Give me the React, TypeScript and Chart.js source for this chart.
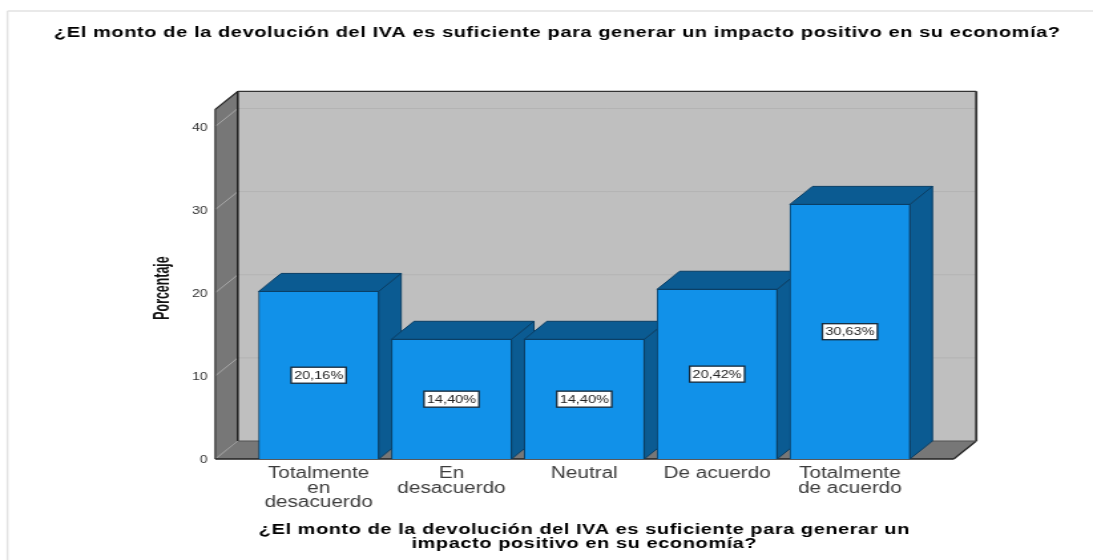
import React, { useEffect, useRef } from "react";
import { Chart, registerables } from "chart.js";

Chart.register(...registerables);

const categories = [
  ["Totalmente", "en", "desacuerdo"],
  ["En", "desacuerdo"],
  ["Neutral"],
  ["De acuerdo"],
  ["Totalmente", "de acuerdo"],
];
const percentages = [20.16, 14.4, 14.4, 20.42, 30.63];
const yTicks = [0, 10, 20, 30, 40];
const yMax = 42.07;
const chartTitle = "¿El monto de la devolución del IVA es suficiente para generar un impacto positivo en su economía?";
const xTitle = ["¿El monto de la devolución del IVA es suficiente para generar un", "impacto positivo en su economía?"];
const yTitle = "Porcentaje";

const S = 1.33; // the reference is stretched horizontally
const W = 1093 / S;
const H = 560;
const X = (v: number) => v / S;
const DX = X(22.5);
const DY = -18;
const FONT = '"Liberation Sans", Arial, sans-serif';

const poly = (ctx: CanvasRenderingContext2D, pts: number[][], fill: string | null, stroke: string | null, lw = 1) => {
  ctx.beginPath();
  pts.forEach((p, i) => (i ? ctx.lineTo(p[0], p[1]) : ctx.moveTo(p[0], p[1])));
  ctx.closePath();
  if (fill) { ctx.fillStyle = fill; ctx.fill(); }
  if (stroke) { ctx.strokeStyle = stroke; ctx.lineWidth = lw; ctx.stroke(); }
};
const line = (ctx: CanvasRenderingContext2D, x1: number, y1: number, x2: number, y2: number, c: string, lw = 1) => {
  ctx.beginPath(); ctx.moveTo(x1, y1); ctx.lineTo(x2, y2); ctx.strokeStyle = c; ctx.lineWidth = lw; ctx.stroke();
};
const spaced = (ctx: any, spacing: string, draw: () => void) => {
  ctx.letterSpacing = spacing;
  draw();
  ctx.letterSpacing = "0px";
};

const box3d = {
  id: "box3d",
  afterLayout(chart: any) {
    const block = chart.titleBlock;
    block.left = X(20);
    block.right = X(1095);
    const drawBlock = block.draw;
    block.draw = function () { spaced(chart.ctx, "0.47px", () => drawBlock.call(block)); };
    const sx = chart.scales.x;
    const drawTitle = sx.drawTitle;
    sx.drawTitle = function () { spaced(chart.ctx, "0.44px", () => drawTitle.call(sx)); };
  },
  beforeDatasetsDraw(chart: any) {
    const ctx = chart.ctx as CanvasRenderingContext2D;
    const { top, bottom } = chart.chartArea;
    const fl = X(215.3), fr = X(954);
    const y = chart.scales.y;
    ctx.save();
    // page frame
    line(ctx, X(7.5), 11, X(7.5), H, "#e2e2e2", 1.5);
    line(ctx, X(7.5), 11, W + 2, 11, "#e2e2e2", 1.5);
    // walls and floor
    poly(ctx, [[fl + DX, top + DY], [fr + DX, top + DY], [fr + DX, bottom + DY], [fl + DX, bottom + DY]], "#bfbfbf", null);
    poly(ctx, [[fl, top], [fl + DX, top + DY], [fl + DX, bottom + DY], [fl, bottom]], "#777777", null);
    poly(ctx, [[fl, bottom], [fl + DX, bottom + DY], [fr + DX, bottom + DY], [fr, bottom]], "#777777", null);
    // grid lines
    yTicks.forEach((t) => {
      if (!t) return;
      const p = y.getPixelForValue(t);
      line(ctx, fl + DX, p + DY, fr + DX, p + DY, "#b3b3b3", 1);
      line(ctx, fl, p, fl + DX, p + DY, "#a8a8a8", 1);
    });
    line(ctx, fl, bottom, fl + DX, bottom + DY, "#9a9a9a", 1);
    // edges
    ctx.lineJoin = "round";
    line(ctx, fl + DX, top + DY, fl + DX, bottom + DY, "#222", 1.6);
    line(ctx, fl + DX, top + DY, fr + DX, top + DY, "#333", 1.2);
    line(ctx, fr + DX, top + DY, fr + DX, bottom + DY, "#333", 1.8);
    line(ctx, fl, top, fl + DX, top + DY, "#222", 1.2);
    line(ctx, fl, top, fl, bottom, "#333", 1.2);
    line(ctx, fl, bottom, fr, bottom, "#222", 1.4);
    line(ctx, fr, bottom, fr + DX, bottom + DY, "#222", 1.2);
    line(ctx, fl + DX, bottom + DY, fr + DX, bottom + DY, "#555", 1);
    // bar sides and tops
    chart.getDatasetMeta(0).data.forEach((b: any) => {
      const l = b.x - b.width / 2, r = b.x + b.width / 2;
      poly(ctx, [[r, b.y], [r + DX, b.y + DY], [r + DX, b.base + DY], [r, b.base]], "#0b5b92", "#0a3f66", 1);
      poly(ctx, [[l, b.y], [l + DX, b.y + DY], [r + DX, b.y + DY], [r, b.y]], "#0b5b92", "#0a3f66", 1);
    });
    ctx.restore();
  },
  afterDatasetsDraw(chart: any) {
    const ctx = chart.ctx as CanvasRenderingContext2D;
    ctx.save();
    ctx.font = `10.9px ${FONT}`;
    ctx.textAlign = "center";
    ctx.textBaseline = "middle";
    chart.getDatasetMeta(0).data.forEach((b: any, i: number) => {
      const cy = (b.y + b.base) / 2;
      const w = X(55), h = 16;
      ctx.fillStyle = "#fff";
      ctx.strokeStyle = "#15293a";
      ctx.lineWidth = 1.3;
      ctx.fillRect(b.x - w / 2, cy - h / 2, w, h);
      ctx.strokeRect(b.x - w / 2, cy - h / 2, w, h);
      ctx.fillStyle = "#222";
      ctx.fillText(percentages[i].toFixed(2).replace(".", ",") + "%", b.x, cy + 0.5);
    });
    ctx.translate(X(163), 288);
    ctx.rotate(-Math.PI / 2);
    ctx.scale(1, 1.37);
    ctx.font = `bold 12.4px ${FONT}`;
    ctx.fillStyle = "#111";
    ctx.fillText(yTitle, 0, 0);
    ctx.restore();
  },
};

export default function App() {
  const ref = useRef<HTMLCanvasElement>(null);
  useEffect(() => {
    document.body.style.margin = "0";
    document.body.style.overflow = "hidden";
    const chart = new Chart(ref.current!, {
      type: "bar",
      data: {
        labels: categories,
        datasets: [{
          label: "Porcentaje",
          data: percentages,
          backgroundColor: "#1191e9",
          borderColor: "#0a3f66",
          borderWidth: 1,
          barThickness: X(120),
        }],
      },
      plugins: [box3d],
      options: {
        responsive: false,
        animation: false,
        devicePixelRatio: 1,
        layout: { padding: { left: 0, top: 0, bottom: 0, right: W - X(916.3) } },
        plugins: {
          legend: { display: false },
          tooltip: { enabled: false },
          title: {
            display: true,
            text: chartTitle,
            color: "#000",
            font: { family: FONT, size: 15, weight: "bold", lineHeight: 1.2 },
            padding: { top: 24, bottom: 67.3 },
          },
        },
        scales: {
          x: {
            type: "category",
            offset: true,
            afterFit(s: any) { s.height = H - 459; },
            grid: { display: false },
            border: { display: false },
            ticks: {
              color: "#3c3c3c",
              autoSkip: false,
              maxRotation: 0,
              padding: 0,
              font: { family: FONT, size: 15.6, lineHeight: 0.92 },
            },
            title: {
              display: true,
              text: xTitle,
              color: "#000",
              font: { family: FONT, size: 15, weight: "bold", lineHeight: 0.93 },
              padding: { top: 4, bottom: 9 },
            },
          },
          y: {
            type: "linear",
            min: 0,
            max: yMax,
            afterFit(s: any) { s.width = X(252.3); },
            afterBuildTicks(s: any) { s.ticks = yTicks.map((value) => ({ value })); },
            grid: { display: false },
            border: { display: false },
            ticks: {
              color: "#333",
              padding: X(34),
              labelOffset: 1.3,
              includeBounds: false,
              font: { family: FONT, size: 10.5 },
            },
          },
        },
      },
    } as any);
    return () => chart.destroy();
  }, []);
  return (
    <div style={{ position: "fixed", left: 0, top: 0, width: 1093, height: 560, overflow: "hidden", background: "#fff" }}>
      <canvas
        ref={ref}
        width={Math.round(W)}
        height={H}
        style={{ display: "block", transformOrigin: "0 0", transform: `scaleX(${1093 / Math.round(W)})` }}
      />
    </div>
  );
}
